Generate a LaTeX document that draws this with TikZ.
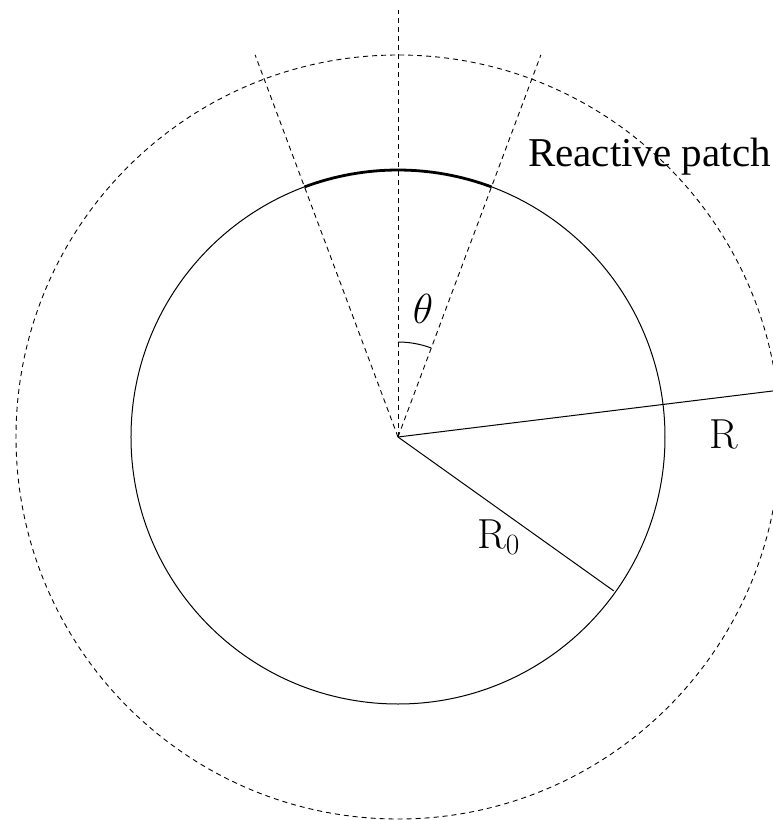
\RequirePackage{fix-cm}
\documentclass[tikz,border=0pt]{standalone}
\usepackage{fontspec}
\newfontfamily\timesf{Liberation Serif}
\begin{document}
\begin{tikzpicture}[x=1pt,y=1pt,
  thin line/.style={line width=1pt},
  dash line/.style={line width=0.9pt, dash pattern=on 5pt off 4pt},
  patch arc/.style={line width=2.8pt},
  lbl/.style={inner sep=0pt, font=\fontsize{42}{50}\selectfont}]
\useasboundingbox (-398,-383) rectangle (375,437);
\clip (-398,-383) rectangle (375,437);
\coordinate (O) at (0,0);
\coordinate (V) at (90:427);
\coordinate (L) at (110.5:408);
\coordinate (Rt) at (69.5:408);
\coordinate (Rend) at (7:382);
\coordinate (R0end) at (-35.5:265);
% circles
\draw[thin line] (O) circle (267);
\draw[dash line] (O) circle (382);
% dashed rays
\draw[dash line] (O) -- (V);
\draw[dash line] (O) -- (L);
\draw[dash line] (O) -- (Rt);
% reactive patch arc
\draw[patch arc] (110.5:267) arc (110.5:69.5:267);
% angle arc
\draw[thin line] (90:95) arc (90:69.5:95);
% radii
\draw[thin line] (O) -- (Rend);
\draw[thin line] (O) -- (R0end);
% labels
\node[lbl, anchor=base] (th) at (25,114) {$\theta$};
\node[lbl, anchor=base] (Rl) at (326,-11) {$\mathrm{R}$};
\node[lbl, anchor=base west] (R0l) at (79,-111) {$\mathrm{R}_0$};
\node[inner sep=0pt, anchor=base west, font=\timesf\fontsize{41}{48}\selectfont] (patch) at (130,270) {Reactive patch};
\end{tikzpicture}
\end{document}
